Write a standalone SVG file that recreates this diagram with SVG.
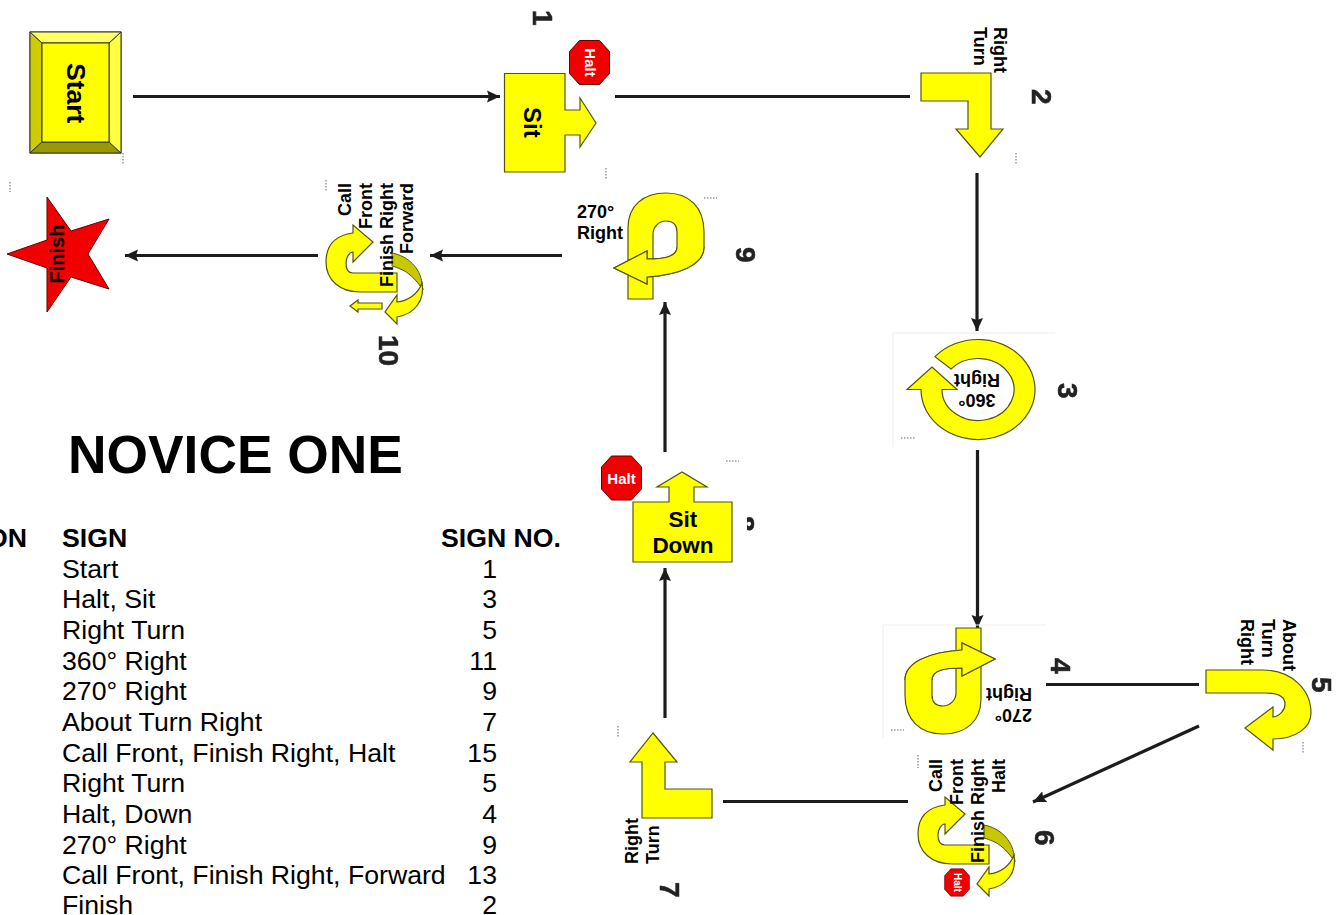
<svg xmlns="http://www.w3.org/2000/svg" width="1344" height="915" viewBox="0 0 1344 915">
<style>
text{font-family:"Liberation Sans",Arial,sans-serif;fill:#000}
.b{font-weight:bold}
.s{fill:#ffff00;stroke:#55550a;stroke-width:1.2;stroke-linejoin:miter}
.r{fill:#f00000;stroke:#600;stroke-width:1}
.l{font-weight:bold;font-size:18px}
.n{font-weight:bold;font-size:28px;fill:#222;stroke:#222;stroke-width:.6;filter:url(#bl)}
.h{font-weight:bold;fill:#fff;text-anchor:middle}
.t{font-size:26.67px}
.c{stroke:#1c1c1c;stroke-width:3.2;fill:none}
.d{stroke:#999;stroke-width:1.5;stroke-dasharray:1.5 1.5;fill:none}
.f{stroke:#eee;stroke-width:1;fill:none}
.o{fill:#ffff00}
.e{fill:none;stroke:#55550a;stroke-width:1.2}
</style>
<defs>
<filter id="bl"><feGaussianBlur stdDeviation="0.7"/></filter>
<filter id="bc" filterUnits="userSpaceOnUse" x="0" y="0" width="1344" height="915"><feGaussianBlur stdDeviation="0.5"/></filter>
<marker id="a" markerUnits="userSpaceOnUse" markerWidth="16" markerHeight="16" refX="13" refY="8" orient="auto"><path d="M0 2 L13 8 L0 14 L2 8Z" fill="#1c1c1c"/></marker>
<clipPath id="c8"><rect x="747" y="505" width="20" height="35"/></clipPath>
<g id="oct"><path d="M-10-22 H10 L20-11 V11 L10 22 H-10 L-20 11 V-11Z"/></g>
<g id="t270">
<path class="s" d="M628 299V228C628 205 644 193 666 193C689 193 704 207 704 232V247C704 265 679 275 647 277V284L614 268L647 251V259C664 259 677 257 677 247V232C677 225 673 221 666 221C659 221 653 227 653 234V299Z"/>
<path class="o" d="M704 247C704 265 679 275 647 277V284L614 268L647 251V259C664 259 677 257 677 247Z"/>
<path class="e" d="M704 247C704 265 679 275 647 277V284L614 268L647 251V259C664 259 677 257 677 247"/>
</g>
<g id="uturn"><path class="s" d="M397 273V292H360C340 292 326 280 326 262C326 243 338 235 353 233V225L373 242L353 262V252C349 252 346 258 346 263C346 270 349 273 353 273Z"/><path d="M392 253C408 256 420 268 422 283L423 290C412 274 405 270 392 266Z" fill="#c8c800" stroke="#55550a" stroke-width="1"/><path class="s" d="M422 283C425 300 415 314 397 317V324L385 312L397 295V302C408 301 418 294 422 283Z"/></g>
</defs>
<g id="connectors" filter="url(#bc)">
<path class="c" d="M133 96.500H500" marker-end="url(#a)"/>
<path class="c" d="M615 96.500H910"/>
<path class="c" d="M977 173V331" marker-end="url(#a)"/>
<path class="c" d="M977.500 450V628" marker-end="url(#a)"/>
<path class="c" d="M1046 684.500H1199"/>
<path class="c" d="M1199 726L1033 802" marker-end="url(#a)"/>
<path class="c" d="M908 801.500H723"/>
<path class="c" d="M665 718V568" marker-end="url(#a)"/>
<path class="c" d="M665 452V302" marker-end="url(#a)"/>
<path class="c" d="M562 255.500H430" marker-end="url(#a)"/>
<path class="c" d="M318 255.500H125" marker-end="url(#a)"/>
</g>
<g id="start">
<rect x="30" y="32" width="91" height="121" fill="#ffff00" stroke="#333"/>
<path d="M30 32L42 43V142L30 153Z" fill="#cccc00" stroke="#333"/>
<path d="M30 153L42 142H109L121 153Z" fill="#999900" stroke="#333"/>
<path d="M121 32L109 43V142L121 153Z" fill="#ffff44" stroke="#333"/>
<path d="M30 32L42 43H109L121 32Z" fill="#ffff66" stroke="#333"/>
<rect x="42" y="43" width="67" height="99" fill="#ffff00" stroke="#333"/>
<text class="b" font-size="26.500" transform="translate(67 63) rotate(90)">Start</text>
</g>
<g id="sign1">
<path class="s" d="M504.500 73.500H565V110H580V98L596 123L580 147V135H565V172H504.500Z"/>
<text class="b" font-size="24" transform="translate(524 107) rotate(90)">Sit</text>
<use href="#oct" class="r" transform="translate(589.500 62.500)"/>
<text class="h" font-size="15" transform="translate(585 62.500) rotate(90)">Halt</text>
<text class="n" transform="translate(533 10) rotate(90)">1</text>
</g>
<g id="sign2">
<path class="s" d="M921 73H991V129H1003L980 157L956 129H968V101H921Z"/>
<text class="l" transform="translate(994 27) rotate(90)">Right</text>
<text class="l" transform="translate(974 27) rotate(90)">Turn</text>
<text class="n" transform="translate(1032 89) rotate(90)">2</text>
</g>
<g id="sign3">
<path class="f" d="M1055 333H893V447"/>
<path class="s" d="M935 356.700A57 50 0 1 1 921 389.500H907L932 367L957 389.500H942A36 31 0 1 0 951 369Z"/>
<text class="l" text-anchor="middle" transform="translate(977 394) rotate(180)">360°</text>
<text class="l" text-anchor="middle" transform="translate(977 374) rotate(180)">Right</text>
<text class="n" transform="translate(1058 383) rotate(90)">3</text>
</g>
<g id="sign4">
<path class="f" d="M1046 625H883V738"/>
<g transform="rotate(180 804.500 463.500)">
<use href="#t270"/>
<text class="l" x="577" y="218">270°</text><text class="l" x="577" y="239">Right</text>
</g>
<text class="n" transform="translate(1051 658) rotate(90)">4</text>
</g>
<g id="sign5">
<path class="s" d="M1206 670H1262C1292 670 1311 690 1311 713C1311 728 1295 739 1273 739V750L1245 728L1273 707V717C1280 716 1285 710 1285 704C1285 697 1278 693 1265 693H1206Z"/>
<text class="l" transform="translate(1283 619) rotate(90)">About</text>
<text class="l" transform="translate(1262 619) rotate(90)">Turn</text>
<text class="l" transform="translate(1241 619) rotate(90)">Right</text>
<text class="n" transform="translate(1312 677) rotate(90)">5</text>
</g>
<g id="sign6">
<use href="#uturn" transform="translate(592 572)"/>
<text class="l" text-anchor="end" transform="translate(942 759) rotate(-90)">Call</text>
<text class="l" text-anchor="end" transform="translate(963 759) rotate(-90)">Front</text>
<text class="l" text-anchor="end" transform="translate(984 759) rotate(-90)">Finish Right</text>
<text class="l" text-anchor="end" transform="translate(1005 759) rotate(-90)">Halt</text>
<use href="#oct" class="r" transform="translate(957 882.500) scale(.62)"/>
<text class="h" font-size="10" transform="translate(954 882.500) rotate(90)">Halt</text>
<text class="n" transform="translate(1035 830) rotate(90)">6</text>
</g>
<g id="sign7">
<path class="s" d="M653 733L677 762H665V789H712V818H642V762H630Z"/>
<text class="l" transform="translate(638 864) rotate(-90)">Right</text>
<text class="l" transform="translate(659 864) rotate(-90)">Turn</text>
<text class="n" transform="translate(660 882) rotate(90)">7</text>
</g>
<g id="sign8">
<path class="s" d="M633 502H669V487H657L682 472L707 487H694V502H732V562H633Z"/>
<text class="b" font-size="22.500" text-anchor="middle" x="683" y="527">Sit</text>
<text class="b" font-size="22.500" text-anchor="middle" x="683" y="553">Down</text>
<use href="#oct" class="r" transform="translate(621.500 478)"/>
<text class="h" font-size="15" x="621.500" y="483.500">Halt</text>
<g clip-path="url(#c8)"><text class="n" transform="translate(735 516) rotate(90)">8</text></g>
</g>
<g id="sign9">
<use href="#t270"/>
<text class="l" x="577" y="218">270°</text>
<text class="l" x="577" y="239">Right</text>
<text class="n" transform="translate(736 247) rotate(90)">9</text>
</g>
<g id="sign10">
<use href="#uturn"/>
<path class="s" d="M350 306L358 300V303H382V309H358V312Z"/>
<text class="l" text-anchor="end" transform="translate(351 183) rotate(-90)">Call</text>
<text class="l" text-anchor="end" transform="translate(372 183) rotate(-90)">Front</text>
<text class="l" text-anchor="end" transform="translate(393 183) rotate(-90)">Finish Right</text>
<text class="l" text-anchor="end" transform="translate(413 183) rotate(-90)">Forward</text>
<text class="n" transform="translate(379 335) rotate(90)">10</text>
</g>
<g id="finish">
<path class="r" d="M7 254L47 240V197L71 231L109 219L88 254L109 289L71 277L47 312V268Z"/>
<text class="b" font-size="20" text-anchor="middle" transform="translate(64 254) rotate(-90)">Finish</text>
</g>
<g id="marks">
<path class="d" d="M123 153V165M10 182V192M326 180V192M606 168V180M1016 153V165M704 198H717M901 438H915M891 730H904M1303 742V753M618 726V738M726 461H739M918 755V768"/>
</g>
<g id="table">
<text class="b" font-size="53.330" x="68" y="473">NOVICE ONE</text>
<text class="t b" x="27" y="547" text-anchor="end">ON</text>
<text class="t b" x="62" y="547">SIGN</text>
<text class="t b" x="441" y="547">SIGN NO.</text>
<g class="t">
<text x="62" y="578">Start</text><text x="62" y="608">Halt, Sit</text><text x="62" y="639">Right Turn</text><text x="62" y="670">360° Right</text><text x="62" y="700">270° Right</text><text x="62" y="731">About Turn Right</text><text x="62" y="762">Call Front, Finish Right, Halt</text><text x="62" y="792">Right Turn</text><text x="62" y="823">Halt, Down</text><text x="62" y="854">270° Right</text><text x="62" y="884">Call Front, Finish Right, Forward</text><text x="62" y="914">Finish</text>
</g>
<g class="t" text-anchor="end">
<text x="497" y="578">1</text><text x="497" y="608">3</text><text x="497" y="639">5</text><text x="497" y="670">11</text><text x="497" y="700">9</text><text x="497" y="731">7</text><text x="497" y="762">15</text><text x="497" y="792">5</text><text x="497" y="823">4</text><text x="497" y="854">9</text><text x="497" y="884">13</text><text x="497" y="914">2</text>
</g>
</g>
</svg>
